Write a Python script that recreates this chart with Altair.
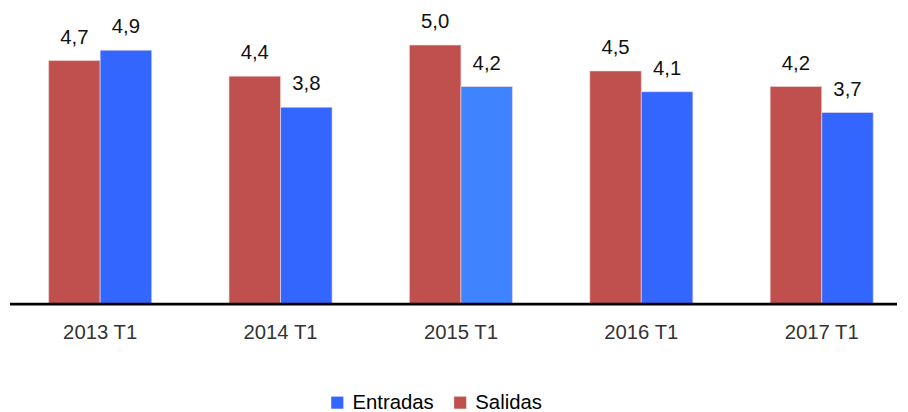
import altair as alt
import pandas as pd

periodos = ["2013 T1", "2014 T1", "2015 T1", "2016 T1", "2017 T1"]
salidas = [4.7, 4.4, 5.0, 4.5, 4.2]
entradas = [4.9, 3.8, 4.2, 4.1, 3.7]
series = ["Entradas", "Salidas"]
colores = ["#3366FF", "#C0504D"]

rows = []
for p, s, e in zip(periodos, salidas, entradas):
    rows.append({"periodo": p, "serie": "Salidas", "valor": s})
    rows.append({"periodo": p, "serie": "Entradas", "valor": e})
df = pd.DataFrame(rows)
df["etiqueta"] = df["valor"].map(lambda v: f"{v:.1f}".replace(".", ","))

W = 895
H = 297
FONT = "Liberation Sans"
FS = 20.5

x = alt.X(
    "periodo:N",
    sort=periodos,
    title=None,
    scale=alt.Scale(range=[39, 871], paddingInner=0.4286, paddingOuter=0),
    axis=alt.Axis(domain=False, ticks=False, labelAngle=0, labelFontSize=FS,
                  labelColor="#333333", labelPadding=19, labelFont=FONT),
)
xo = alt.XOffset("serie:N", sort=["Salidas", "Entradas"],
                 scale=alt.Scale(paddingInner=0, paddingOuter=0))
y = alt.Y("valor:Q", scale=alt.Scale(domain=[0, 5.68]), axis=None)

color = alt.condition(
    "datum.periodo == '2015 T1' && datum.serie == 'Entradas'",
    alt.value("#4083FF"),
    alt.Color(
        "serie:N",
        scale=alt.Scale(domain=series, range=colores),
        legend=alt.Legend(
            title=None, orient="none", direction="horizontal",
            legendX=320, legendY=386, symbolType="square", symbolSize=150,
            symbolStrokeWidth=0, labelFontSize=FS, labelFont=FONT,
            labelColor="#000000", columnPadding=16, labelOffset=5,
        ),
    ),
)

base = alt.Chart(df).encode(x=x, xOffset=xo, y=y)
bars = base.mark_bar(stroke="#f2dede", strokeWidth=0.6).encode(color=color)
text = base.mark_text(baseline="alphabetic", dy=-17, fontSize=FS, font=FONT,
                      color="#111111").encode(text="etiqueta:N")
rule = alt.Chart(pd.DataFrame({"a": [0]})).mark_rule(
    color="black", strokeWidth=2.6
).encode(x=alt.value(0), x2=alt.value(W), y=alt.value(H))

chart = alt.layer(bars, text, rule).properties(
    width=W, height=H,
    padding={"left": 2, "top": 0, "right": 3, "bottom": 107},
    autosize=alt.AutoSizeParams(type="none"),
).configure_view(stroke=None)

chart.save("out.html", embed_options={"renderer": "svg", "actions": False})
